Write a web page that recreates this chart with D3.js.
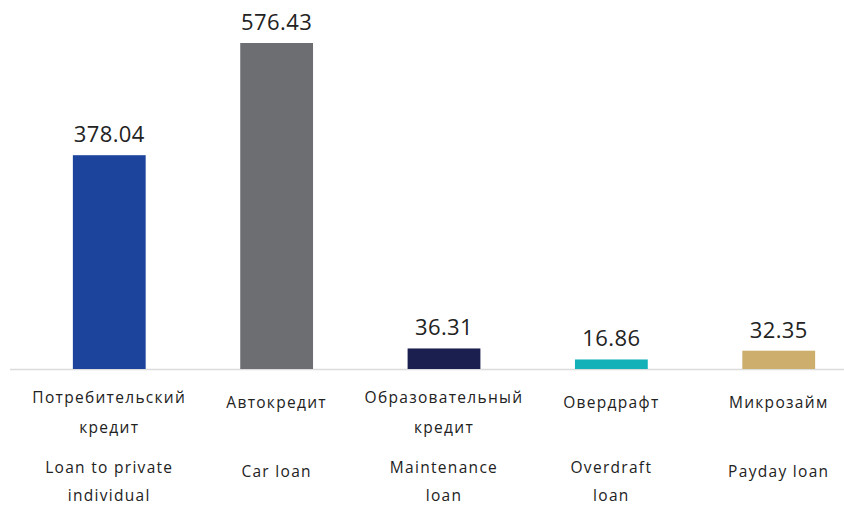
<!DOCTYPE html>
<html><head><meta charset="utf-8">
<script src="https://cdn.jsdelivr.net/npm/d3@7"></script>
<style>
html,body{margin:0;padding:0;background:#fff;}
svg{display:block;}
text{font-family:"Open Sans",sans-serif;fill:#222;}
</style></head>
<body><svg id="c" width="844" height="506"></svg>
<script>
const categoriesRu = [["Потребительский","кредит"],["Автокредит"],["Образовательный","кредит"],["Овердрафт"],["Микрозайм"]];
const categoriesEn = [["Loan to private","individual"],["Car loan"],["Maintenance","loan"],["Overdraft","loan"],["Payday loan"]];
const values = [378.04, 576.43, 36.31, 16.86, 32.35];
const colors = ["#1c449c","#6d6e71","#1b1f4f","#14b2b8","#cdae6d"];

const svg = d3.select("#c");
const baseY = 369;
const idx = d3.range(values.length);
const x = d3.scaleBand().domain(idx).range([26, 862]).paddingInner(0.565).paddingOuter(0.28);
const y = d3.scaleLinear().domain([0, 576.43]).range([baseY, 43]);

svg.append("line").attr("x1",10).attr("x2",844).attr("y1",baseY+0.5).attr("y2",baseY+0.5)
  .attr("stroke","#dcdcdc").attr("stroke-width",1.5);

svg.selectAll("rect.bar").data(values).enter().append("rect").attr("class","bar")
  .attr("x",(d,i)=>x(i)).attr("width",x.bandwidth())
  .attr("y",d=>y(d)).attr("height",d=>baseY-y(d))
  .attr("fill",(d,i)=>colors[i]);

svg.selectAll("text.val").data(values).enter().append("text").attr("class","val")
  .attr("x",(d,i)=>x(i)+x.bandwidth()/2).attr("y",d=>y(d)-13)
  .attr("text-anchor","middle").attr("font-size",22).attr("letter-spacing",0.4)
  .text(d=>d.toFixed(2));

function labels(arr, y1, ySingle, gap){
  arr.forEach((lines,i)=>{
    const cx = x(i)+x.bandwidth()/2;
    const t = svg.append("text").attr("text-anchor","middle").attr("font-size",15.5).attr("letter-spacing",1.3);
    lines.forEach((s,j)=>{
      t.append("tspan").attr("x",cx)
        .attr("y", lines.length===1 ? ySingle : y1 + j*gap)
        .text(s);
    });
  });
}
labels(categoriesRu, 403, 408, 30);
labels(categoriesEn, 473, 477, 28);
</script></body></html>
